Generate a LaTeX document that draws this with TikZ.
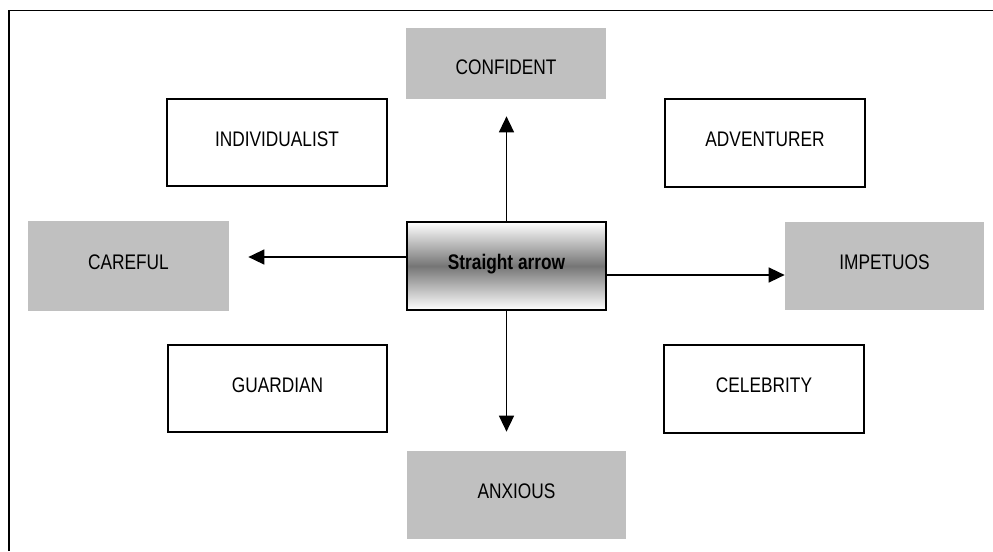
\documentclass[tikz,border=0pt]{standalone}
\usepackage{fontspec}
\setmainfont{Liberation Sans}[FakeStretch=0.82]
\usetikzlibrary{arrows.meta}
\definecolor{boxgray}{HTML}{C0C0C0}
\tikzset{
  basebox/.style={rectangle, inner sep=0pt, text height=0.303cm, text depth=0.16cm,
    font=\fontsize{12pt}{14pt}\selectfont},
  whitebox/.style={basebox, draw=black, line width=1pt, fill=white},
  graybox/.style={basebox, draw=none, fill=boxgray},
  centerbox/.style={basebox, draw=black, line width=1pt, top color=white, bottom color=white,
    middle color=black!54, font=\fontsize{12pt}{14pt}\selectfont\bfseries},
  arr/.style={line width=0.85pt, -{Triangle[length=0.32cm, width=0.30cm]}},
  frameline/.style={line width=1pt}
}
\begin{document}
\begin{tikzpicture}[x=0.02cm, y=-0.02cm]
\useasboundingbox (0,0) rectangle (993,551);
\draw[frameline] (9,551) -- (9,10.5) -- (993,10.5);

\node[graybox, minimum width=200*0.02cm, minimum height=71*0.02cm, text height=0.44cm, text depth=0cm] (conf) at (506,63.5) {CONFIDENT};
\node[whitebox, minimum width=220*0.02cm, minimum height=87*0.02cm] (indiv) at (277,142.5) {INDIVIDUALIST};
\node[whitebox, minimum width=200*0.02cm, minimum height=88*0.02cm] (adv) at (765,143) {ADVENTURER};
\node[graybox, minimum width=201*0.02cm, minimum height=90*0.02cm] (care) at (128.5,266) {CAREFUL};
\node[centerbox, minimum width=199*0.02cm, minimum height=88*0.02cm] (c) at (506.5,266) {Straight arrow};
\node[graybox, minimum width=199*0.02cm, minimum height=88*0.02cm] (imp) at (884.5,266) {IMPETUOS};
\node[whitebox, minimum width=219*0.02cm, minimum height=87*0.02cm] (guard) at (277.5,388.5) {GUARDIAN};
\node[whitebox, minimum width=200*0.02cm, minimum height=88*0.02cm] (celeb) at (764,389) {CELEBRITY};
\node[graybox, minimum width=219*0.02cm, minimum height=88*0.02cm] (anx) at (516.5,495) {ANXIOUS};

\draw[arr, shorten >=0.34cm] (c.north) -- (c.north |- conf.south);
\draw[arr, shorten >=0.38cm] (c.south) -- (c.south |- anx.north);
\draw[arr, shorten >=0.38cm] ([yshift=0.18cm]c.west) -- ([yshift=0.18cm]care.east);
\draw[arr] ([yshift=-0.18cm]c.east) -- ([yshift=-0.18cm]imp.west);
\end{tikzpicture}
\end{document}
